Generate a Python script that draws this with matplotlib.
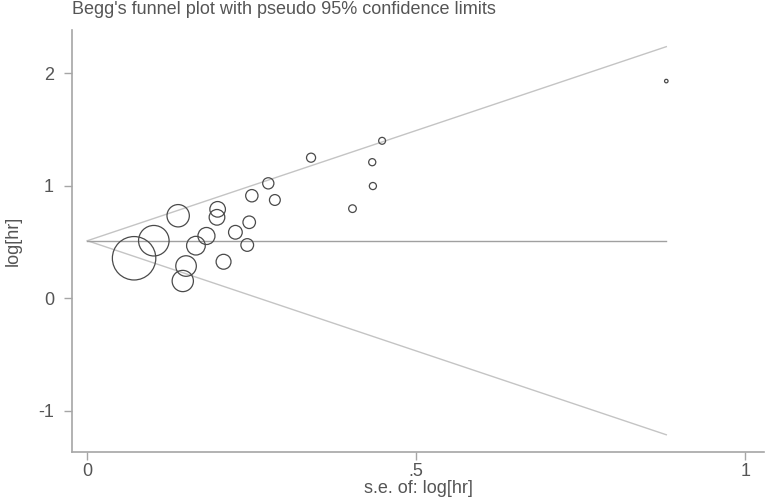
"""
Begg's funnel plot with pseudo 95% confidence limits
"""

import matplotlib
matplotlib.use('Agg')
import matplotlib.pyplot as plt
import numpy as np

plt.rcParams['font.family'] = ['Liberation Sans', 'DejaVu Sans']

# Data
se = [0.071, 0.101, 0.138, 0.150, 0.145, 0.165, 0.181, 0.198, 0.197, 0.207,
      0.225, 0.246, 0.243, 0.250, 0.285, 0.275, 0.340, 0.448, 0.433, 0.434,
      0.403, 0.880]
log_hr = [0.356, 0.512, 0.734, 0.287, 0.154, 0.468, 0.554, 0.791, 0.720, 0.325,
          0.587, 0.676, 0.474, 0.912, 0.874, 1.022, 1.250, 1.400, 1.210, 0.998,
          0.797, 1.931]
pooled = 0.512
se_max = 0.88

x_ticks = [0, 0.5, 1]
x_tick_labels = ['0', '.5', '1']
y_ticks = [-1, 0, 1, 2]
y_tick_labels = ['-1', '0', '1', '2']

se_arr = np.array(se)
lhr_arr = np.array(log_hr)

grey_text = '#555555'
spine_col = '#a6a6a6'

fig = plt.figure(figsize=(7.65, 5.0), dpi=100)
ax = fig.add_axes([0.0941, 0.096, 0.905, 0.844])

# pseudo 95% limits
se_line = np.array([0, se_max])
ax.plot(se_line, pooled + 1.96 * se_line, color='#c4c4c4', linewidth=1.0, zorder=1)
ax.plot(se_line, pooled - 1.96 * se_line, color='#c4c4c4', linewidth=1.0, zorder=1)
ax.plot(se_line, [pooled, pooled], color='#a0a0a0', linewidth=1.0, zorder=1)

# studies, marker size weighted by 1/se^2
sizes = (2.22 / se_arr) ** 2
ax.scatter(se_arr, lhr_arr, s=sizes, facecolors='none', edgecolors='#4a4a4a',
           linewidths=0.9, zorder=2)

ax.set_xlim(-0.0234, 1.029)
ax.set_ylim(-1.366, 2.385)

ax.set_xticks(x_ticks)
ax.set_xticklabels(x_tick_labels)
ax.set_yticks(y_ticks)
ax.set_yticklabels(y_tick_labels)

for side in ['top', 'right']:
    ax.spines[side].set_visible(False)
for side in ['left', 'bottom']:
    ax.spines[side].set_color(spine_col)
    ax.spines[side].set_linewidth(1.2)

ax.tick_params(axis='both', direction='out', length=6, width=1.0, color=spine_col,
               labelcolor=grey_text, labelsize=13)
ax.tick_params(axis='y', pad=7)
ax.tick_params(axis='x', pad=2)

ax.set_xlabel('s.e. of: log[hr]', fontsize=13, color=grey_text, labelpad=0)
ax.set_ylabel('log[hr]', fontsize=13, color=grey_text, labelpad=12)

fig.text(0.0941, 0.997, "Begg's funnel plot with pseudo 95% confidence limits",
         ha='left', va='top', fontsize=13, color=grey_text)

plt.savefig('out.png', dpi=100, facecolor='white')
plt.close()
